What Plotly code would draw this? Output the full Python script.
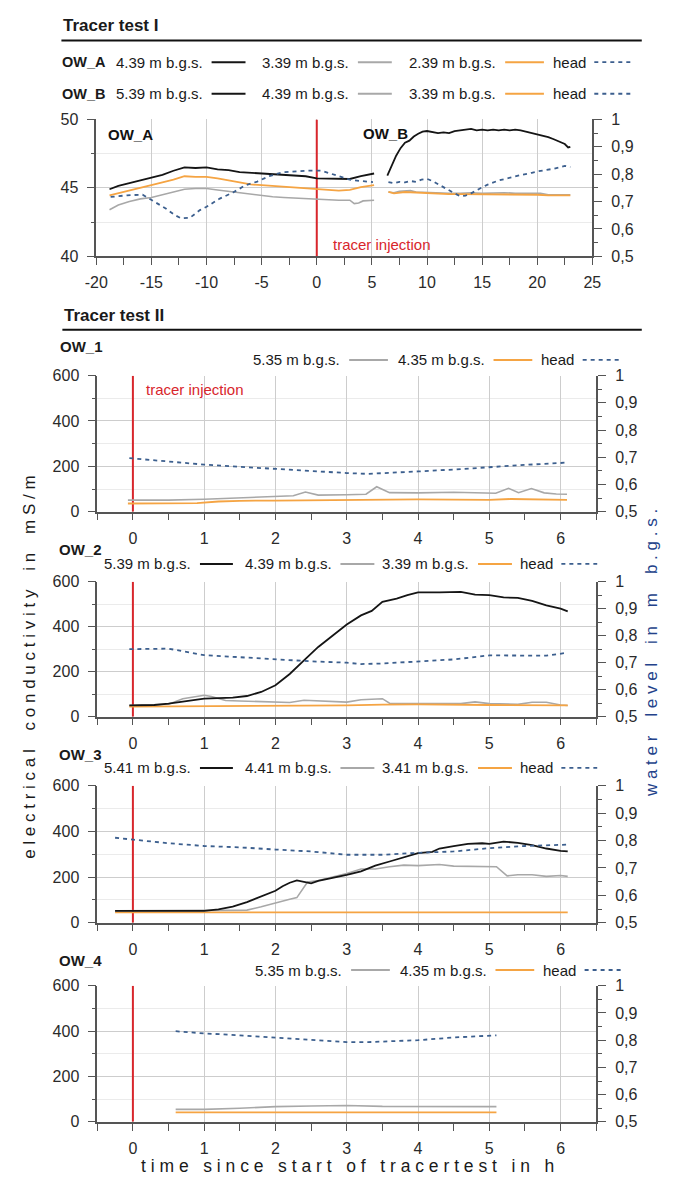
import plotly.graph_objects as go

W, H = 675, 1187
FONT = "Liberation Sans, Arial, sans-serif"

# ---------------- DATA ----------------
injection_time = 0.0

# Tracer test I, OW_A (EC in mS/m on left axis, head in m b.g.s. on right axis)
a_ec_x = [-18.8, -18, -17, -16, -15, -14, -13, -12, -11, -10, -9, -8, -7, -6, -5, -4, -3, -2, -1, 0, 1, 2, 3, 4, 5.2]
a_ec_439 = [44.9, 45.15, 45.35, 45.55, 45.7, 45.95, 46.25, 46.5, 46.45, 46.5, 46.35, 46.3, 46.15, 46.1, 46.0, 46.0, 45.9, 45.9, 45.85, 45.7, 45.7, 45.7, 45.65, 45.85, 46.05]
a_ec_239 = [44.45, 44.6, 44.8, 45.0, 45.2, 45.4, 45.6, 45.85, 45.8, 45.8, 45.7, 45.55, 45.4, 45.25, 45.2, 45.15, 45.05, 45.0, 44.95, 44.9, 44.85, 44.8, 44.85, 45.05, 45.2]
a_ec_339_x = [-18.8, -18, -17, -16, -15, -14, -13, -12, -11, -10, -9, -8, -7, -6, -5, -4, -3, -2, -1, 0, 1, 2, 3, 3.4, 3.8, 4.2, 5.2]
a_ec_339 = [43.4, 43.75, 44.0, 44.2, 44.3, 44.5, 44.7, 44.9, 44.95, 44.95, 44.85, 44.75, 44.6, 44.5, 44.4, 44.35, 44.3, 44.25, 44.2, 44.2, 44.15, 44.1, 44.1, 43.85, 43.9, 44.05, 44.1]
a_head_x = [-18.7, -17.2, -15.8, -15, -13.7, -12.9, -12.3, -11.5, -10.6, -10, -8.8, -7.6, -6.5, -5.4, -4.3, -3.1, -1.9, -0.8, 0.4, 1.6, 2.1, 3, 4, 5.1]
a_head = [0.717, 0.723, 0.725, 0.705, 0.675, 0.651, 0.639, 0.641, 0.669, 0.681, 0.711, 0.733, 0.759, 0.773, 0.793, 0.807, 0.81, 0.813, 0.813, 0.797, 0.79, 0.78, 0.775, 0.771]

# Tracer test I, OW_B
b_539_x = [6.4, 6.8, 7.2, 7.6, 8.0, 8.4, 8.8, 9.2, 9.6, 10, 10.5, 11, 11.5, 12, 12.5, 13, 13.5, 14, 14.5, 15, 15.5, 16, 16.5, 17, 17.5, 18, 18.5, 19, 19.5, 20, 20.5, 21, 21.5, 22, 22.5, 22.8, 23]
b_539 = [45.9, 46.6, 47.35, 47.9, 48.3, 48.45, 48.75, 48.95, 49.1, 49.15, 49.1, 49.0, 49.05, 49.0, 49.15, 49.2, 49.25, 49.3, 49.2, 49.25, 49.2, 49.25, 49.2, 49.25, 49.2, 49.25, 49.2, 49.1, 49.05, 48.95, 48.85, 48.7, 48.55, 48.4, 48.2, 47.95, 48.0]
b_439_x = [6.5, 7, 7.5, 8, 8.5, 9, 10, 11, 12, 13, 14, 15, 16, 17, 18, 19, 20, 20.3, 21, 22, 23]
b_439 = [44.7, 44.65, 44.75, 44.8, 44.8, 44.7, 44.65, 44.65, 44.6, 44.6, 44.65, 44.6, 44.65, 44.65, 44.6, 44.6, 44.55, 44.6, 44.5, 44.5, 44.5]
b_339_x = [6.5, 7, 8, 9, 10, 11, 12, 13, 14, 15, 16, 17, 18, 19, 20, 21, 22, 23]
b_339 = [44.7, 44.6, 44.7, 44.65, 44.6, 44.6, 44.55, 44.55, 44.55, 44.55, 44.55, 44.55, 44.5, 44.5, 44.5, 44.45, 44.45, 44.45]
b_head_x = [6.5, 7, 7.5, 8, 8.5, 9, 9.5, 10, 10.5, 11, 11.5, 12, 12.5, 13, 13.5, 14, 14.5, 15, 15.5, 16, 16.5, 17, 17.5, 18, 18.5, 19, 19.5, 20, 20.5, 21, 21.5, 22, 22.5, 23]
b_head = [0.771, 0.767, 0.772, 0.770, 0.775, 0.772, 0.78, 0.783, 0.775, 0.763, 0.752, 0.742, 0.73, 0.72, 0.722, 0.73, 0.742, 0.752, 0.762, 0.77, 0.777, 0.782, 0.788, 0.792, 0.797, 0.80, 0.805, 0.81, 0.813, 0.817, 0.82, 0.825, 0.83, 0.826]

top_x_ticks = [-20, -15, -10, -5, 0, 5, 10, 15, 20, 25]
top_x_ticktext = ["-20", "-15", "-10", "-5", "0", "5", "10", "15", "20", "25"]

# Tracer test II, OW_1
o1_535_x = [-0.07, 0.5, 1.0, 1.5, 2.0, 2.25, 2.42, 2.6, 3.0, 3.27, 3.42, 3.6, 4.0, 4.5, 5.09, 5.27, 5.41, 5.59, 5.77, 5.94, 6.09]
o1_535 = [51, 51, 55, 62, 68, 70, 87, 73, 75, 77, 110, 84, 83, 86, 81, 103, 84, 102, 83, 78, 77]
o1_435_x = [-0.07, 0.5, 0.9, 1.2, 1.5, 2.0, 3.0, 3.5, 4.0, 5.0, 5.3, 6.09]
o1_435 = [36, 36, 38, 45, 48, 49, 51, 54, 54, 52, 56, 52]
o1_head_x = [-0.05, 0.5, 1, 1.5, 2, 2.5, 3, 3.3, 3.5, 4, 4.5, 5, 5.5, 6, 6.1]
o1_head = [0.697, 0.685, 0.673, 0.665, 0.657, 0.649, 0.642, 0.639, 0.641, 0.648, 0.655, 0.664, 0.672, 0.679, 0.681]

# OW_2
o2_539_x = [-0.05, 0.3, 0.5, 0.7, 0.9, 1.0, 1.2, 1.4, 1.6, 1.8, 2.0, 2.2, 2.4, 2.6, 2.8, 3.0, 3.2, 3.35, 3.5, 3.7, 3.85, 4.0, 4.3, 4.6, 4.8, 5.0, 5.2, 5.4, 5.6, 5.8, 6.0, 6.1]
o2_539 = [50, 52, 58, 68, 78, 80, 83, 85, 92, 110, 140, 190, 250, 310, 360, 410, 450, 470, 510, 525, 540, 552, 552, 555, 542, 540, 530, 528, 515, 495, 480, 468]
o2_439_x = [-0.05, 0.5, 0.7, 0.9, 1.0, 1.1, 1.3, 1.5, 1.7, 2.0, 2.2, 2.4, 2.6, 2.8, 3.0, 3.2, 3.4, 3.5, 3.6, 4.0, 4.4, 4.6, 4.8, 5.0, 5.4, 5.6, 5.8, 6.0, 6.1]
o2_439 = [50, 55, 80, 92, 95, 90, 72, 70, 68, 62, 63, 73, 70, 70, 65, 75, 77, 80, 60, 60, 60, 58, 66, 58, 55, 64, 64, 52, 50]
o2_339_x = [-0.05, 1, 2, 3, 3.5, 4, 5, 6.1]
o2_339 = [45, 46, 47, 50, 54, 55, 52, 50]
o2_head_x = [-0.05, 0.5, 1.0, 1.5, 2.0, 2.5, 3.0, 3.2, 3.5, 4.0, 4.5, 5.0, 5.5, 5.8, 6.1]
o2_head = [0.75, 0.752, 0.728, 0.72, 0.712, 0.705, 0.70, 0.695, 0.697, 0.705, 0.712, 0.727, 0.727, 0.726, 0.737]

# OW_3
o3_541_x = [-0.25, 0, 0.5, 1.0, 1.2, 1.4, 1.6, 1.8, 2.0, 2.1, 2.2, 2.3, 2.4, 2.5, 2.6, 2.8, 3.0, 3.2, 3.4, 3.6, 3.8, 4.0, 4.2, 4.3, 4.5, 4.7, 4.9, 5.0, 5.2, 5.4, 5.6, 5.8, 6.0, 6.1]
o3_541 = [52, 52, 52, 52, 58, 70, 90, 115, 140, 160, 175, 185, 178, 172, 183, 195, 210, 225, 250, 268, 285, 305, 310, 325, 335, 345, 348, 345, 355, 350, 340, 325, 315, 312]
o3_441_x = [-0.25, 1.0, 1.6, 1.8, 2.0, 2.2, 2.3, 2.45, 2.6, 2.8, 3.0, 3.2, 3.4, 3.6, 3.8, 4.0, 4.3, 4.5, 4.8, 5.1, 5.25, 5.4, 5.6, 5.8, 6.0, 6.1]
o3_441 = [52, 52, 55, 70, 88, 103, 110, 178, 185, 200, 215, 235, 235, 245, 252, 250, 255, 248, 245, 245, 205, 210, 210, 203, 207, 203]
o3_341_x = [-0.25, 1, 2, 3, 4, 5, 6.1]
o3_341 = [45, 45, 45, 46, 46, 45, 45]
o3_head_x = [-0.25, 0, 0.5, 1, 1.5, 2, 2.5, 3, 3.5, 4, 4.5, 5, 5.5, 6, 6.1]
o3_head = [0.81, 0.803, 0.79, 0.78, 0.775, 0.767, 0.76, 0.748, 0.748, 0.755, 0.76, 0.772, 0.78, 0.784, 0.785]

# OW_4
o4_535_x = [0.6, 1.0, 1.5, 2.0, 2.5, 3.0, 3.5, 4.0, 4.5, 4.8, 5.1]
o4_535 = [55, 55, 60, 67, 70, 72, 68, 67, 66, 65, 67]
o4_435_x = [0.6, 1, 2, 3, 4, 5.1]
o4_435 = [42, 42, 42, 42, 42, 42]
o4_head_x = [0.6, 1, 1.5, 2, 2.5, 3, 3.3, 3.5, 4, 4.5, 5.1]
o4_head = [0.833, 0.825, 0.818, 0.81, 0.80, 0.793, 0.793, 0.795, 0.80, 0.81, 0.818]

right_ticks = [0.5, 0.6, 0.7, 0.8, 0.9, 1.0]
right_ticktext = ["0,5", "0,6", "0,7", "0,8", "0,9", "1"]

# ---------------- STYLE ----------------
C_BLACK = "#151515"
C_GRAY = "#a8a8a8"
C_ORANGE = "#f5a443"
C_HEAD = "#3c5f8e"
C_RED = "#d8262c"
C_AX = "#555555"
HEAD_DASH = "4px,4px"


def px(x):
    return x / W


def py(y):
    return 1 - y / H


fig = go.Figure()


def add_line(x, y, xa, ya, color, width=1.8, dash="solid"):
    fig.add_trace(go.Scatter(x=x, y=y, xaxis=xa, yaxis=ya, mode="lines",
                             line=dict(color=color, width=width, dash=dash),
                             showlegend=False, hoverinfo="skip"))


tick_font = dict(family=FONT, size=16, color="#2a2a2a")


def xaxis_cfg(domain, rng, dtick, minor, anchor):
    return dict(domain=domain, range=rng, anchor=anchor, dtick=dtick, tick0=0,
                showline=True, linecolor=C_AX, linewidth=1.5,
                ticks="outside", ticklen=7, tickwidth=1.3, tickcolor=C_AX,
                ticklabelstandoff=4,
                showgrid=True, gridcolor="#cdcdcd", gridwidth=1, zeroline=False,
                tickfont=tick_font,
                minor=dict(dtick=minor, tick0=0, ticks="outside", ticklen=7,
                           tickwidth=1.3, tickcolor=C_AX, showgrid=False))


def yleft_cfg(domain, rng, dtick, minor, anchor):
    return dict(domain=domain, range=rng, anchor=anchor, dtick=dtick, tick0=0,
                showline=True, linecolor=C_AX, linewidth=1.5,
                ticks="outside", ticklen=8, tickwidth=1.3, tickcolor=C_AX,
                ticklabelstandoff=5,
                showgrid=True, gridcolor="#cdcdcd", gridwidth=1, zeroline=False,
                tickfont=tick_font,
                minor=dict(dtick=minor, tick0=0, ticks="outside", ticklen=4,
                           tickwidth=1.3, tickcolor=C_AX, showgrid=True,
                           gridcolor="#ebebeb", gridwidth=1))


def yright_cfg(overlay, anchor):
    return dict(overlaying=overlay, anchor=anchor, side="right", range=[0.5, 1.0],
                tickvals=right_ticks, ticktext=right_ticktext,
                showline=True, linecolor=C_AX, linewidth=1.5,
                ticks="outside", ticklen=8, tickwidth=1.3, tickcolor=C_AX,
                ticklabelstandoff=6,
                showgrid=False, zeroline=False, tickfont=tick_font,
                minor=dict(dtick=0.05, tick0=0.5, ticks="outside", ticklen=4,
                           tickwidth=1.3, tickcolor=C_AX, showgrid=False))


layout = dict(width=W, height=H, autosize=False,
              margin=dict(l=0, r=0, t=0, b=0),
              paper_bgcolor="white", plot_bgcolor="white",
              showlegend=False, font=dict(family=FONT, color="#222"))

# ---- top panel (Tracer test I) ----
top_xd = [px(87), px(599)]
top_yd = [py(252), py(113)]
layout["xaxis"] = xaxis_cfg(top_xd, [-20, 25], 5, 2.5, "y")
layout["xaxis"].update(tickmode="array", tickvals=top_x_ticks, ticktext=top_x_ticktext)
layout["yaxis"] = yleft_cfg(top_yd, [40, 50], 5, 2.5, "x")
layout["yaxis2"] = yright_cfg("y", "x")

add_line([injection_time, injection_time], [40, 50], "x", "y", C_RED, 2.0)
add_line(a_head_x, a_head, "x", "y2", C_HEAD, 1.8, HEAD_DASH)
add_line(a_ec_339_x, a_ec_339, "x", "y", C_GRAY, 1.6)
add_line(a_ec_x, a_ec_239, "x", "y", C_ORANGE, 1.8)
add_line(a_ec_x, a_ec_439, "x", "y", C_BLACK, 1.8)
add_line(b_head_x, b_head, "x", "y2", C_HEAD, 1.8, HEAD_DASH)
add_line(b_439_x, b_439, "x", "y", C_GRAY, 1.6)
add_line(b_339_x, b_339, "x", "y", C_ORANGE, 1.8)
add_line(b_539_x, b_539, "x", "y", C_BLACK, 1.8)

# ---- lower panels ----
panel_px = [(373, 511), (582, 719), (789, 928), (992, 1130)]
low_xd = [px(88), px(603)]
panels = [
    [(o1_head_x, o1_head, "r", C_HEAD), (o1_535_x, o1_535, "l", C_GRAY), (o1_435_x, o1_435, "l", C_ORANGE)],
    [(o2_head_x, o2_head, "r", C_HEAD), (o2_439_x, o2_439, "l", C_GRAY), (o2_339_x, o2_339, "l", C_ORANGE), (o2_539_x, o2_539, "l", C_BLACK)],
    [(o3_head_x, o3_head, "r", C_HEAD), (o3_341_x, o3_341, "l", C_ORANGE), (o3_441_x, o3_441, "l", C_GRAY), (o3_541_x, o3_541, "l", C_BLACK)],
    [(o4_head_x, o4_head, "r", C_HEAD), (o4_535_x, o4_535, "l", C_GRAY), (o4_435_x, o4_435, "l", C_ORANGE)],
]
for k, (top, bot) in enumerate(panel_px):
    xi = k + 2
    yl = 2 * k + 3
    yr = 2 * k + 4
    xa, yla, yra = f"x{xi}", f"y{yl}", f"y{yr}"
    layout[f"xaxis{xi}"] = xaxis_cfg(low_xd, [-0.5, 6.5], 1, 0.5, yla)
    layout[f"yaxis{yl}"] = yleft_cfg([py(bot), py(top)], [0, 600], 200, 100, xa)
    layout[f"yaxis{yr}"] = yright_cfg(yla, xa)
    add_line([injection_time, injection_time], [0, 600], xa, yla, C_RED, 2.0)
    for (x, y, side, col) in panels[k]:
        if side == "r":
            add_line(x, y, xa, yra, col, 1.8, HEAD_DASH)
        else:
            add_line(x, y, xa, yla, col, 1.8 if col != C_GRAY else 1.6)

fig.update_layout(**layout)

# ---------------- annotations / legends ----------------
ann = []
shapes = []


def text(x, y, s, size=15, color="#1a1a1a", bold=False, anchor="left", angle=0):
    ann.append(dict(x=px(x), y=py(y), xref="paper", yref="paper",
                    text=f"<b>{s}</b>" if bold else s, showarrow=False,
                    xanchor=anchor, yanchor="middle", textangle=angle,
                    font=dict(family=FONT, size=size, color=color)))


def hline(x0, x1, y, color, width, dash="solid"):
    shapes.append(dict(type="line", xref="paper", yref="paper",
                       x0=px(x0), x1=px(x1), y0=py(y), y1=py(y),
                       line=dict(color=color, width=width, dash=dash)))


def legend_row(y, items):
    for (label, color, dash, x0, x1) in items:
        text(x0 - 7, y, label, anchor="right")
        hline(x0, x1, y, color, 2.0 if dash == "solid" else 1.8, dash)


# section headers
text(51, 18, "Tracer test I", size=17, bold=True)
hline(51, 650, 33, "#111", 2)
text(52, 312, "Tracer test II", size=17, bold=True)
hline(52, 650, 326.5, "#111", 2)

# Tracer test I legends
top_items_a = [("4.39 m b.g.s.", C_BLACK, "solid", 206, 241),
               ("3.39 m b.g.s.", C_GRAY, "solid", 357, 392),
               ("2.39 m b.g.s.", C_ORANGE, "solid", 509, 549),
               ("head", C_HEAD, HEAD_DASH, 601, 639)]
top_items_b = [("5.39 m b.g.s.", C_BLACK, "solid", 206, 241),
               ("4.39 m b.g.s.", C_GRAY, "solid", 357, 392),
               ("3.39 m b.g.s.", C_ORANGE, "solid", 509, 549),
               ("head", C_HEAD, HEAD_DASH, 601, 639)]
text(50, 55, "OW_A", size=14.5, bold=True)
legend_row(55, top_items_a)
text(50, 87, "OW_B", size=14.5, bold=True)
legend_row(87, top_items_b)

# panel labels inside top plot
ann.append(dict(x=-19.1, y=48.9, xref="x", yref="y", text="<b>OW_A</b>", showarrow=False,
                xanchor="left", yanchor="middle", font=dict(family=FONT, size=15, color="#111")))
ann.append(dict(x=4.0, y=49.0, xref="x", yref="y", text="<b>OW_B</b>", showarrow=False,
                xanchor="left", yanchor="middle", font=dict(family=FONT, size=15, color="#111")))
ann.append(dict(x=1.3, y=40.9, xref="x", yref="y", text="tracer injection", showarrow=False,
                xanchor="left", yanchor="middle", font=dict(family=FONT, size=15, color=C_RED)))
ann.append(dict(x=0.16, y=539, xref="x2", yref="y3", text="tracer injection", showarrow=False,
                xanchor="left", yanchor="middle", font=dict(family=FONT, size=15, color=C_RED)))

# Tracer test II labels + legends
text(47, 343, "OW_1", bold=True)
legend_row(357, [("5.35 m b.g.s.", C_GRAY, "solid", 348, 388),
                 ("4.35 m b.g.s.", C_ORANGE, "solid", 497, 537),
                 ("head", C_HEAD, HEAD_DASH, 589, 627)])
text(46, 549, "OW_2", bold=True)
legend_row(564, [("5.39 m b.g.s.", C_BLACK, "solid", 194, 228),
                 ("4.39 m b.g.s.", C_GRAY, "solid", 339, 374),
                 ("3.39 m b.g.s.", C_ORANGE, "solid", 481, 516),
                 ("head", C_HEAD, HEAD_DASH, 567, 604)])
text(46, 757, "OW_3", bold=True)
legend_row(771, [("5.41 m b.g.s.", C_BLACK, "solid", 194, 228),
                 ("4.41 m b.g.s.", C_GRAY, "solid", 339, 374),
                 ("3.41 m b.g.s.", C_ORANGE, "solid", 481, 516),
                 ("head", C_HEAD, HEAD_DASH, 567, 604)])
text(46, 966, "OW_4", bold=True)
legend_row(976, [("5.35 m b.g.s.", C_GRAY, "solid", 350, 390),
                 ("4.35 m b.g.s.", C_ORANGE, "solid", 499, 539),
                 ("head", C_HEAD, HEAD_DASH, 591, 629)])


def spaced(s, gap=3):
    return ("\u00a0" * gap).join(" ".join(list(w)) for w in s.split(" "))


text(18, 668, spaced("electrical conductivity in mS/m", 4), size=17, anchor="center", angle=-90)
text(660, 654, spaced("water level in m b.g.s.", 4), size=17, color="#23428a", anchor="center", angle=-90)
text(346, 1175, spaced("time since start of tracertest in h"), size=17.5, anchor="center")

fig.update_layout(annotations=ann, shapes=shapes)
fig.write_html("out.html", config={"displayModeBar": False},
               post_script="document.body.style.margin='0px';document.body.style.overflow='hidden';")
